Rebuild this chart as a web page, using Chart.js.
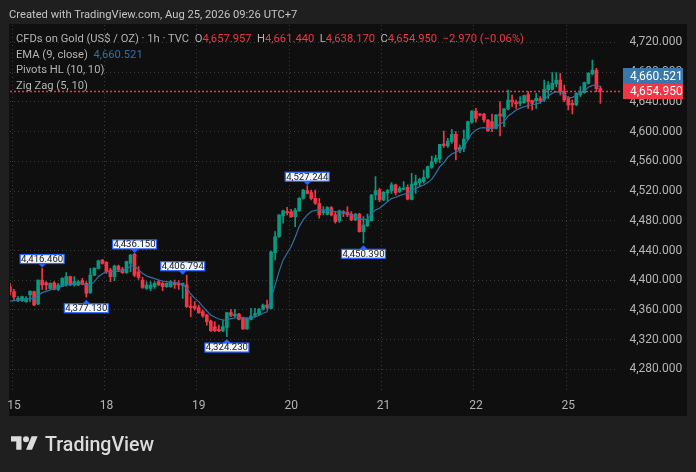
<!DOCTYPE html>
<html>
<head>
<meta charset="utf-8">
<title>CFDs on Gold</title>
<script src="https://cdn.jsdelivr.net/npm/chart.js@4"></script>
<style>
body { margin:0; background:#1f1f1f; width:696px; height:472px; overflow:hidden; position:relative; font-family:Roboto, sans-serif; }
#panel { position:absolute; left:9px; top:24px; width:678px; height:392px; background:#0f0f0f; }
#chart { position:absolute; left:0; top:0; }
.txt { position:absolute; white-space:pre; color:#b4b4b4; font-size:11.2px; line-height:15px; }
.red { color:#f23645; }
#logo { position:absolute; left:11px; top:434px; }
#logoText { position:absolute; left:45px; top:431px; color:#dcdcdc; font-size:19.6px; line-height:28px; font-weight:500; }
</style>
</head>
<body>
<div id="panel"></div>
<canvas id="chart" width="696" height="472"></canvas>
<div class="txt" style="left:9px;top:7px;color:#c4c4c4">Created with TradingView.com, Aug 25, 2026 09:26 UTC+7</div>
<div class="txt" style="left:16px;top:31px">CFDs on Gold (US$ / OZ) · 1h · TVC  O<span class="red">4,657.957</span>  H<span class="red">4,661.440</span>  L<span class="red">4,638.170</span>  C<span class="red">4,654.950</span>  <span class="red">−2.970 (−0.06%)</span></div>
<div class="txt" style="left:16px;top:47px">EMA (9, close)  <span style="color:#2f6fa5">4,660.521</span></div>
<div class="txt" style="left:16px;top:62px">Pivots HL (10, 10)</div>
<div class="txt" style="left:16px;top:78px">Zig Zag (5, 10)</div>
<svg id="logo" width="27" height="18" viewBox="0 3 36 20" fill="#dcdcdc"><path d="M14 22H7V11H0V4h14v18zM28 22h-8l7.5-18h8L28 22z"/><circle cx="20" cy="8" r="4"/></svg>
<div id="logoText">TradingView</div>
<script>
// hourly candles
const openVals = [4391.3,4384.6,4373.4,4372.5,4371.1,4380.1,4384.6,4368,4400.3,4396.7,
4389.1,4396.7,4387.8,4392.2,4393.6,4404.8,4393.6,4393.6,4399.4,4395.8,
4383.3,4407,4416,4427.2,4424.1,4413.8,4404.8,4419.2,4415.1,4410.2,
4422.7,4435.3,4411.5,4400.3,4389.1,4389.1,4391.3,4398.1,4395.8,4391.3,
4391.3,4397.2,4395.8,4393.1,4393.6,4365.3,4365.3,4363.1,4357.7,4353.2,
4345.1,4337.5,4333.9,4332.1,4336.6,4356.4,4351.9,4354.5,4348.7,4334.4,
4347.4,4352.8,4354.5,4360.8,4366.7,4362.2,4437.2,4458.7,4486.5,4492.4,
4492.4,4485.6,4493.7,4510.3,4520.6,4517.9,4510.3,4503.6,4491,4488.8,
4497.7,4487.9,4479.8,4492.4,4491.5,4489.2,4481.2,4489.2,4465.5,4473.5,
4480.3,4514.8,4521.5,4508.1,4517.9,4520.6,4528.3,4519.3,4522.4,4525.1,
4508.9,4528.2,4531.4,4532.7,4538.5,4552,4559.6,4563.2,4583.4,4580.7,
4586.5,4596.4,4575.3,4577.6,4590.1,4612.6,4627.8,4623.8,4623.8,4615.7,
4613.5,4604.5,4623.8,4620.2,4630.5,4642.6,4639.5,4638.1,4639,4649.8,
4641.7,4641.7,4644.4,4642.6,4656.1,4657,4664.1,4669.5,4653.8,4644.9,
4638.1,4635.9,4649.3,4652.5,4665,4677.6,4683,4657.957];
const highVals = [4395.8,4387.7,4377.9,4378.8,4377.9,4385.5,4385.5,4400.3,4416.46,4398.1,
4396.7,4398.1,4395.8,4403.5,4410.2,4405.7,4404.8,4400.3,4402.6,4398.1,
4416,4416.9,4427.2,4428.1,4425,4416,4420.5,4420.5,4417.4,4425.9,
4434.9,4436.15,4418.3,4403.9,4398.1,4398.1,4398.1,4400.3,4398.1,4396.7,
4399.4,4400.3,4399.4,4396.7,4406.794,4377.9,4371.2,4366.7,4359.9,4354.1,
4346.5,4344.2,4339.7,4346.5,4356.4,4360.8,4360.8,4355.4,4349.6,4349.6,
4362.2,4362.2,4362.2,4368,4373.4,4439.3,4465.4,4487.9,4494.6,4498.2,
4495.5,4496.9,4511.2,4522.4,4527.244,4521.5,4521.5,4510.3,4499.1,4499.1,
4499.1,4492.4,4494.6,4493.7,4499.1,4492.4,4490.1,4490.1,4485.6,4489.2,
4515.7,4539.5,4523.8,4519.3,4522.4,4531.4,4529.6,4526,4532.7,4528.3,
4543.9,4541.7,4537.2,4548.4,4553.8,4567.2,4568.6,4583,4600.9,4591,
4603.2,4600,4582,4602.2,4614.4,4628.3,4631.4,4624.7,4624.7,4616.6,
4623.8,4623.3,4640.4,4631.4,4656.1,4649.3,4642.6,4647.1,4649.3,4653.8,
4642.6,4651.6,4647.1,4669.5,4667.3,4679.4,4679.4,4678.5,4662.8,4647.1,
4642.6,4652.5,4660.6,4666.8,4679.4,4696.4,4685.2,4661.44];
const lowVals = [4380.1,4373.4,4371.1,4371.6,4370.3,4371.1,4365.8,4367.1,4387.8,4386.9,
4387.8,4386.9,4386,4391.3,4392.2,4392.7,4392.2,4392.7,4393.6,4377.13,
4382.4,4406.1,4415.1,4421.8,4409.3,4398.1,4399.4,4411.5,4409.3,4409.3,
4411.5,4404.8,4401.2,4389.1,4387.8,4386,4389.1,4392.7,4386,4390.4,
4390.4,4389.1,4387.8,4375.6,4363.5,4351,4359.9,4355.4,4350.1,4339.7,
4331.2,4330.8,4330.8,4330.8,4324.23,4351,4350.1,4346.5,4333.9,4333.9,
4346.5,4350.1,4353.2,4359.9,4361.7,4361.3,4427.3,4457.8,4476.7,4487.9,
4484.7,4472.2,4492.8,4509,4516.1,4508.1,4502.2,4483.4,4487.9,4487.9,
4486.5,4476.7,4478,4485.6,4485.6,4480.3,4480.3,4464.6,4450.39,4472.2,
4479.4,4508.1,4505.8,4507.2,4507.2,4517,4514.8,4517.9,4521.5,4508.1,
4508,4517,4526,4530.5,4537.2,4550.6,4557.4,4558.3,4578.9,4578.9,
4584.3,4561.9,4571.7,4573.1,4588.8,4611.2,4612.6,4621.1,4612.6,4600.4,
4600,4603.6,4594.2,4606.7,4629.2,4633.6,4631.4,4634.5,4638.1,4631.4,
4629.2,4631.4,4638.1,4640.4,4644.9,4656.1,4660.6,4649.3,4640.4,4629.2,
4623.8,4635,4647.1,4651.6,4664.1,4676.3,4653.8,4638.17];
const closeVals = [4384.6,4377.9,4375.6,4377.9,4375.6,4385.5,4366.7,4400.3,4393.6,4393.6,
4395.8,4387.8,4393.6,4402.6,4404.8,4393.6,4398.1,4398.1,4394.5,4382.4,
4407,4416,4426.3,4422.7,4411.5,4404.8,4419.2,4413.8,4410.2,4425,
4434,4407,4403.9,4390.4,4393.6,4393.6,4395.8,4393.6,4391.3,4395.8,
4398.1,4393.6,4393.6,4395.8,4364.4,4363.1,4362.2,4356.4,4351.9,4344.2,
4332.1,4332.1,4332.1,4337.5,4356.4,4352.8,4354.5,4347.4,4334.4,4348.7,
4351.9,4355.4,4360.8,4366.7,4363.5,4438.4,4458.7,4487.9,4493.3,4491,
4485.6,4494.6,4510.3,4521.5,4517,4510.3,4503.6,4487.9,4493.3,4497.7,
4487.9,4478.9,4493.3,4490.1,4487.9,4481.2,4488.8,4465.5,4474.4,4481.2,
4514.8,4520.6,4508.1,4518.4,4520.6,4528.3,4517.9,4523.8,4523.8,4509,
4529.6,4532.7,4535.8,4538.5,4552.9,4559.6,4564.1,4583,4581.2,4587.4,
4596.4,4576.2,4578.9,4590.1,4613.4,4627.8,4617.9,4622.4,4615.7,4601.4,
4604.5,4622.4,4621.1,4630.5,4642.6,4639.9,4637.2,4640.4,4648.4,4640.4,
4638.1,4644.9,4641.7,4657,4662.8,4665,4669.5,4653.8,4642.6,4635.9,
4635.9,4651.6,4653.8,4665.9,4678.5,4683,4657.957,4654.95];
const emaVals = [4372,4372.5,4372.9,4373.8,4374.3,4375.2,4375.6,4379.7,4383.3,4385.1,
4386.9,4388.2,4390,4391.8,4393.6,4394.5,4395.4,4395.8,4395.8,4393.6,
4393.6,4398.1,4404.8,4408.8,4411.5,4411.5,4411.5,4412,4412.9,4414.7,
4419.2,4419.2,4414.7,4409.3,4405.7,4403.9,4402.1,4400.3,4399,4398.1,
4397.2,4396.7,4395.8,4394.5,4389.1,4381.5,4375.6,4371.2,4364.4,4358.6,
4353.2,4350.1,4347.8,4346.5,4346.5,4348.3,4349.2,4349.6,4350.1,4348.7,
4349.6,4351,4352.8,4355.5,4357.7,4375.6,4393.1,4412,4427.3,4436.3,
4445.3,4457.8,4472.2,4481.2,4487.9,4492.4,4494.2,4494.6,4494.6,4494.2,
4493.7,4492.4,4491.9,4491.5,4490.1,4487.9,4485.6,4482.5,4482,4482,
4490.1,4494.6,4496.9,4501.3,4505.8,4509.9,4511.7,4513.9,4515.7,4517,
4521.5,4523.3,4526,4528.2,4531.4,4535.8,4543.9,4552.9,4558.3,4565.5,
4570,4572.6,4575.3,4579.8,4588.8,4597.8,4602.2,4604.9,4605.4,4604.5,
4604.9,4605.8,4609.9,4613.5,4621.1,4624.7,4629.2,4631.4,4633.6,4635.4,
4635.9,4637.2,4639,4643.5,4648,4651.6,4653.8,4652.9,4650.2,4645.8,
4645.8,4649.3,4651.6,4654.7,4659.7,4662.3,4662.8,4660.521];

const dayIdx = [1,24,47,70,93,116,139];
const dayLabels = ['15','18','19','20','21','22','25'];
const yTicks = [4720,4680,4640,4600,4560,4520,4480,4440,4400,4360,4320,4280];

const pivotIdx = [8,19,31,43,54,74,88];
const pivotPrice = [4416.46,4377.13,4436.15,4406.794,4324.23,4527.244,4450.39];
const pivotHigh = [true,false,true,true,false,true,false];

const lastClose = 4654.95;
const lastEma = 4660.521;

const GREEN = '#089981';
const RED = '#f23645';
const EMA_COL = '#2f6fa5';
const GRID = '#3c3c3c';

// blank slots on the right leave the gap before the price axis
const categories = [];
for (let i = 0; i < 152; i++) {
    let k = dayIdx.indexOf(i);
    categories.push(k >= 0 ? dayLabels[k] : '');
}

function fmt(v){
    let s = v.toFixed(3);
    return s.replace(/\B(?=(\d{3})(?!\d)(?=.*\.))/, ',');
}

const up = closeVals.map((c, i) => c >= openVals[i]);
const colours = up.map(u => u ? GREEN : RED);

const overlays = {
    id: 'overlays',
    afterDatasetsDraw(chart){
        const c = chart.ctx, x = chart.scales.x, y = chart.scales.y;
        // last price dotted line, width 1.5 so it stays red once blurred
        c.save();
        c.strokeStyle = RED;
        c.lineWidth = 1.5;
        c.setLineDash([2,2]);
        c.beginPath();
        let ly = Math.round(y.getPixelForValue(lastClose)) + 0.5;
        c.moveTo(chart.chartArea.left, ly);
        c.lineTo(621, ly);
        c.stroke();
        c.setLineDash([]);

        // pivot flags
        c.font = '9.6px Roboto, sans-serif';
        c.textAlign = 'center';
        c.textBaseline = 'middle';
        pivotIdx.forEach((idx, n) => {
            let px = x.getPixelForValue(idx);
            let py = y.getPixelForValue(pivotPrice[n]);
            let w = 44, h = 9;
            let top = pivotHigh[n] ? py - 4.5 - h : py + 6.5;
            c.fillStyle = '#2962ff';
            c.beginPath();
            if (pivotHigh[n]) {
                c.moveTo(px - 4, top + h); c.lineTo(px + 4, top + h); c.lineTo(px, top + h + 4);
            } else {
                c.moveTo(px - 4, top); c.lineTo(px + 4, top); c.lineTo(px, top - 4);
            }
            c.fill();
            c.fillStyle = '#f2f5fb';
            c.strokeStyle = '#2962ff';
            c.lineWidth = 1.2;
            c.fillRect(px - w/2, top, w, h);
            c.strokeRect(px - w/2, top, w, h);
            c.fillStyle = '#1a1a1a';
            c.fillText(fmt(pivotPrice[n]), px, top + h/2 + 0.5);
        });

        // price tags on the axis
        c.font = '12px Roboto, sans-serif';
        c.textAlign = 'left';
        c.fillStyle = '#3a78ab';
        c.fillRect(623, 68, 60, 16);
        c.fillStyle = RED;
        c.fillRect(623, 84, 60, 15);
        c.fillStyle = '#ffffff';
        c.fillText(fmt(lastEma), 630, 76.5);
        c.fillText(fmt(lastClose), 630, 92);
        c.restore();
    }
};

const ctx = document.getElementById('chart').getContext('2d');
const myChart = new Chart(ctx, {
    data: {
        labels: categories,
        datasets: [
            {
                type: 'line',
                data: emaVals,
                borderColor: EMA_COL,
                borderWidth: 1.2,
                pointRadius: 0,
                tension: 0,
                order: 0
            },
            {
                type: 'bar',
                data: openVals.map((o, i) => [o, closeVals[i]]),
                backgroundColor: colours,
                barThickness: 3,
                grouped: false,
                order: 1
            },
            {
                type: 'bar',
                data: lowVals.map((l, i) => [l, highVals[i]]),
                backgroundColor: colours,
                barThickness: 1,
                grouped: false,
                order: 2
            }
        ]
    },
    options: {
        responsive: false,
        animation: false,
        layout: { padding: { left: 10, top: 25, right: 0, bottom: 0 } },
        plugins: { legend: { display: false }, tooltip: { enabled: false }, title: { display: false } },
        scales: {
            x: {
                offset: false,
                afterFit: a => { a.height = 80; },
                grid: {
                    color: c => (c.tick && c.tick.label) ? GRID : 'transparent',
                    drawTicks: false
                },
                border: { display: false, dash: [1,3] },
                ticks: {
                    autoSkip: false,
                    maxRotation: 0,
                    padding: 7,
                    color: '#b4b4b4',
                    font: { family: 'Roboto', size: 12 }
                }
            },
            y: {
                position: 'right',
                min: 4249.6,
                max: 4743.55,
                afterBuildTicks: a => { a.ticks = yTicks.map(v => ({ value: v })); },
                afterFit: a => { a.width = 79.5; },
                grid: { color: GRID, drawTicks: false },
                border: { display: false, dash: [1,3] },
                ticks: {
                    padding: 13,
                    color: '#b4b4b4',
                    font: { family: 'Roboto', size: 12 },
                    callback: v => fmt(v)
                }
            }
        }
    },
    plugins: [overlays]
});
</script>
</body>
</html>
